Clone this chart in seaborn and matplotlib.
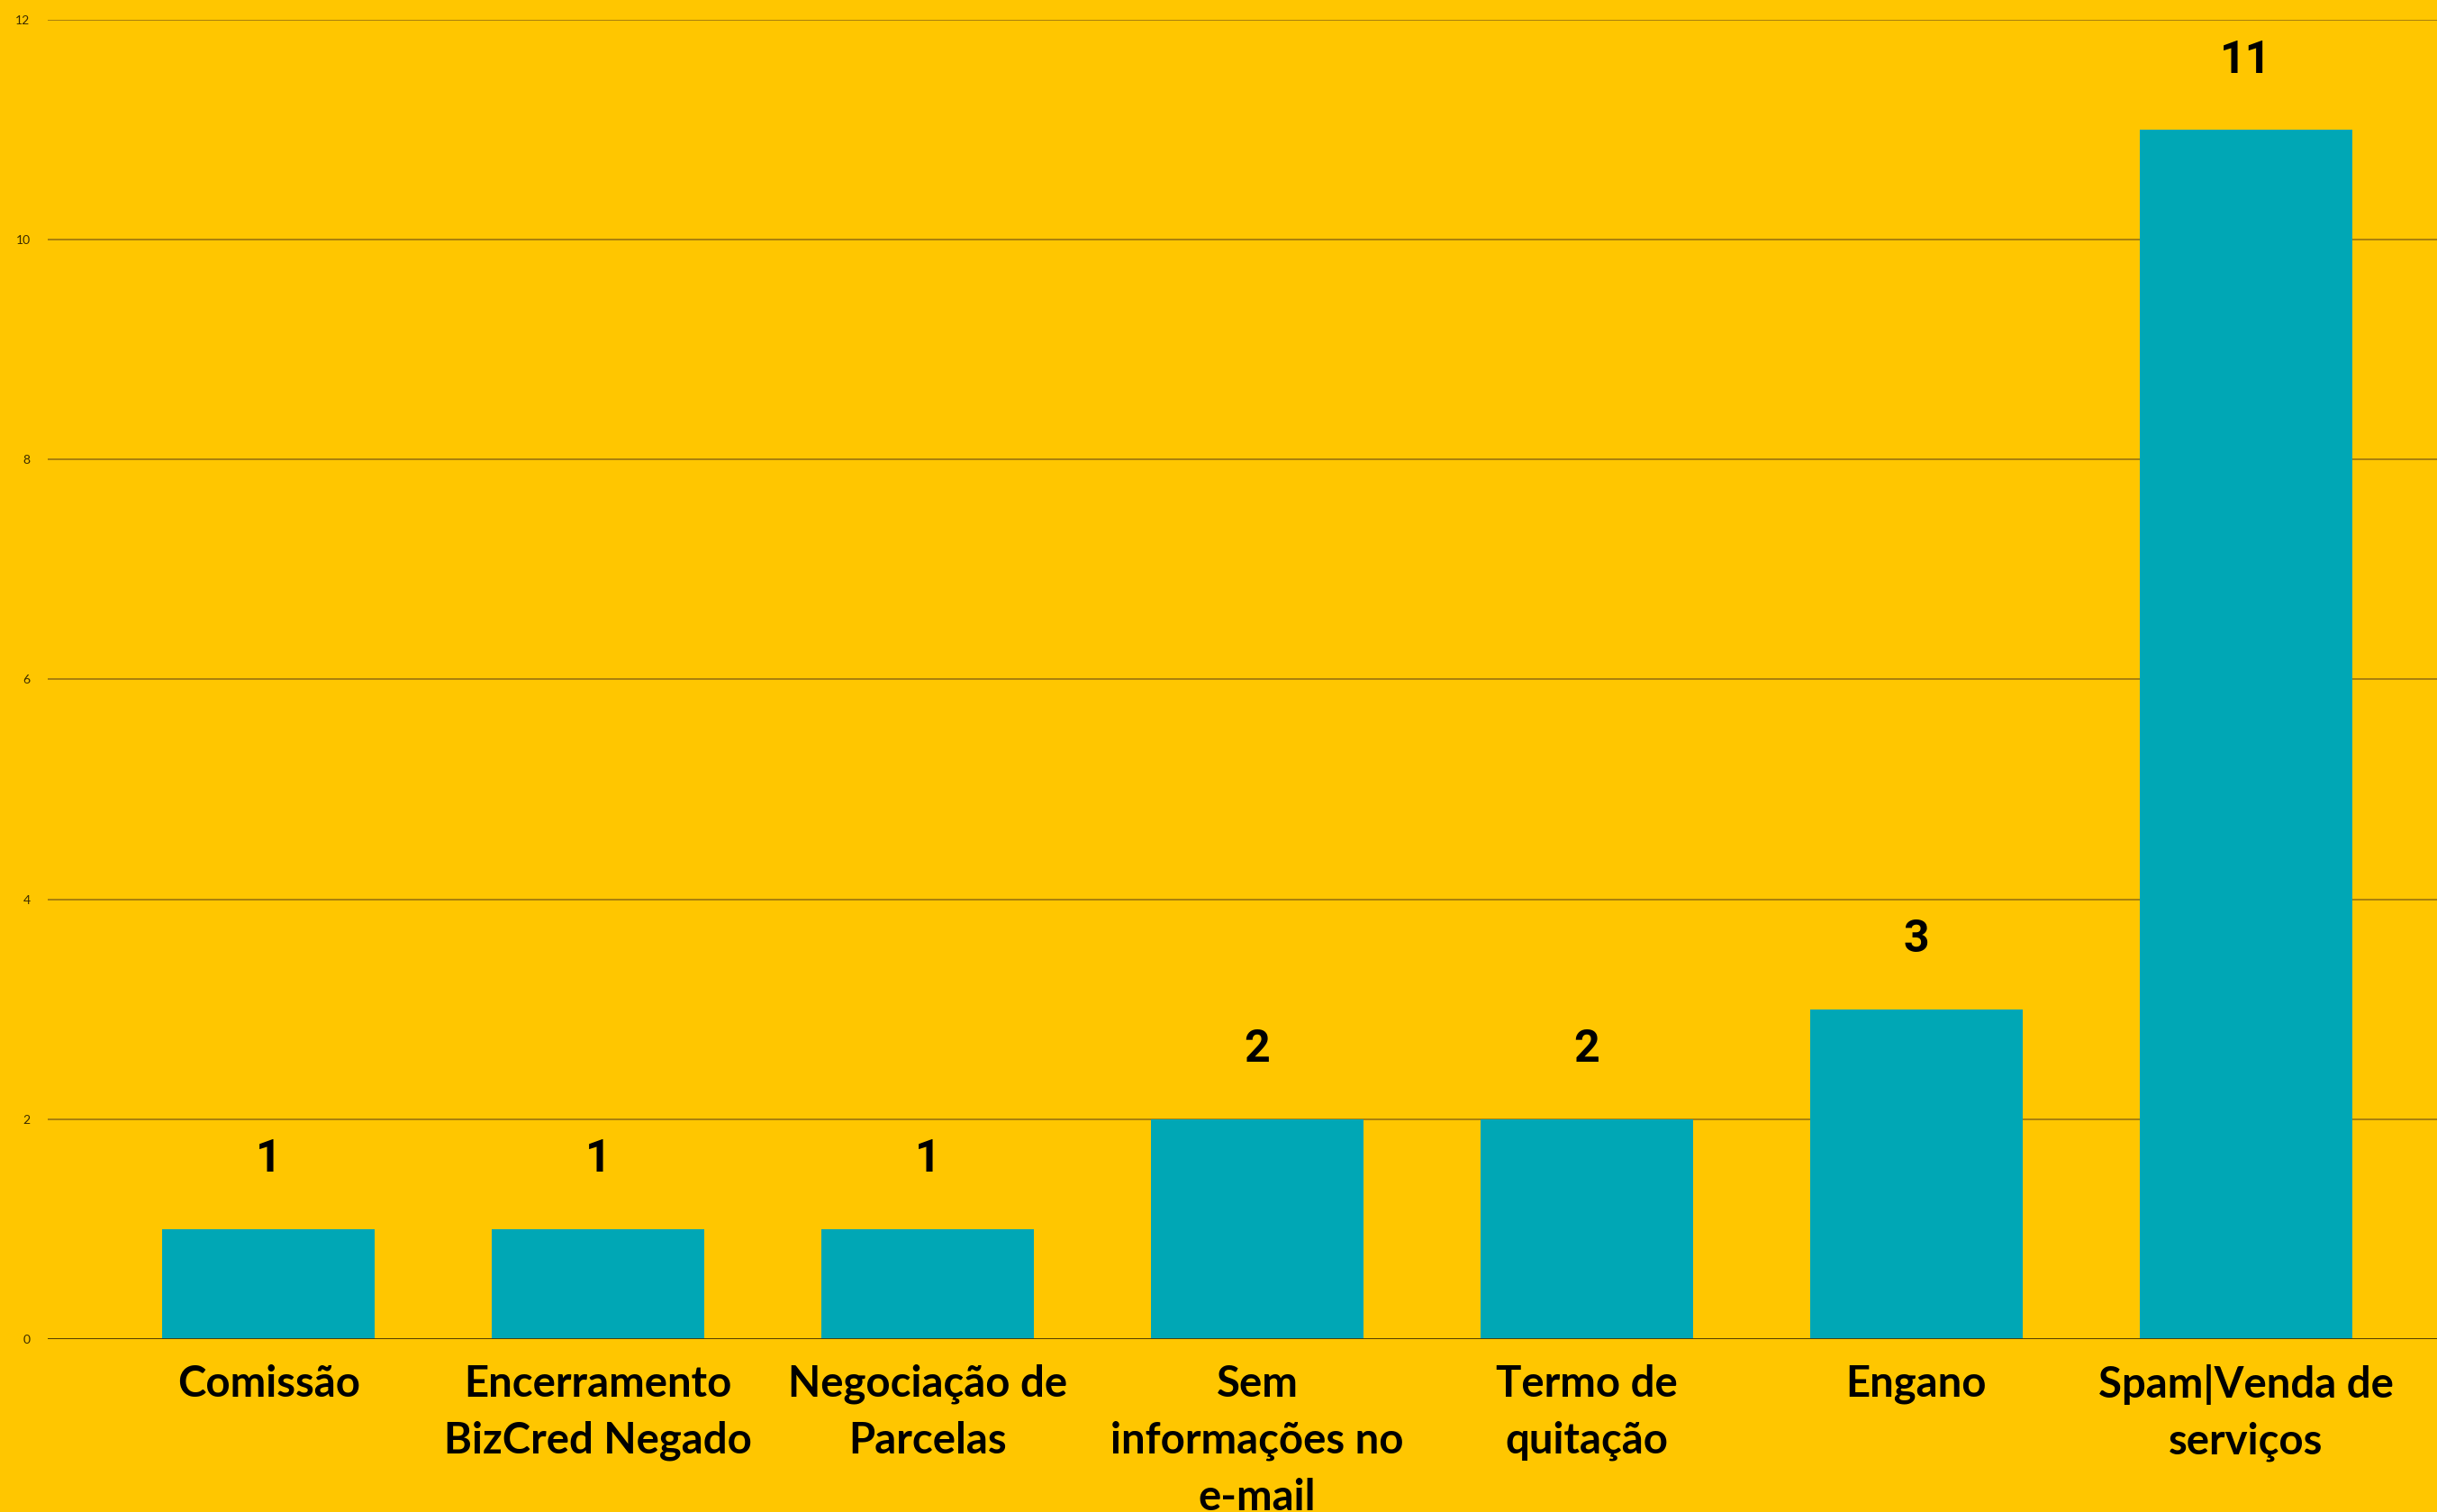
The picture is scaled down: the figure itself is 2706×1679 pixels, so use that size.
import matplotlib
matplotlib.use("Agg")
import matplotlib.pyplot as plt
import seaborn as sns
import pandas as pd

# Values
categories = [
    "Comissão",
    "Encerramento\nBizCred Negado",
    "Negociação de\nParcelas",
    "Sem\ninformações no\ne-mail",
    "Termo de\nquitação",
    "Engano",
    "Spam|Venda de\nserviços",
]
values = [1, 1, 1, 2, 2, 3, 11]
y_ticks = [0, 2, 4, 6, 8, 10, 12]

BG = "#FFC600"
BAR = "#00A7B5"

df = pd.DataFrame({"categoria": categories, "total": values})

sns.set_theme(style="white")
plt.rcParams["font.family"] = ["Lato", "DejaVu Sans"]

fig = plt.figure(figsize=(27.06, 16.79), dpi=100)
fig.patch.set_facecolor(BG)
ax = fig.add_axes([0.0196, 0.1144, 0.9804, 0.8725])
ax.set_facecolor(BG)

sns.barplot(data=df, x="categoria", y="total", color=BAR, width=0.646,
            saturation=1, edgecolor="none", linewidth=0, ax=ax, zorder=3)

ax.set_ylim(0, 12)
ax.set_xlim(-0.67, 6.58)
ax.set_yticks(y_ticks)
ax.set_yticklabels([str(t) for t in y_ticks], fontsize=10, color="#3a2a00")
ax.grid(axis="y", color="#9a7410", linewidth=1.2, zorder=0)
ax.axhline(0, color="#4a3500", linewidth=2, zorder=4)
ax.tick_params(axis="y", length=0, pad=14)
ax.tick_params(axis="x", length=0, pad=20)
for lbl in ax.get_xticklabels():
    lbl.set_fontsize(34)
    lbl.set_fontweight("bold")
    lbl.set_color("black")
    lbl.set_linespacing(1.53)
ax.set_xlabel("")
ax.set_ylabel("")
for s in ax.spines.values():
    s.set_visible(False)

for i, v in enumerate(values):
    ax.text(i, v + 0.63, str(v), ha="center", va="center", fontsize=36,
            fontweight="bold", color="black", family=["Roboto", "DejaVu Sans"])

fig.savefig("out.png", dpi=100, facecolor=BG)
